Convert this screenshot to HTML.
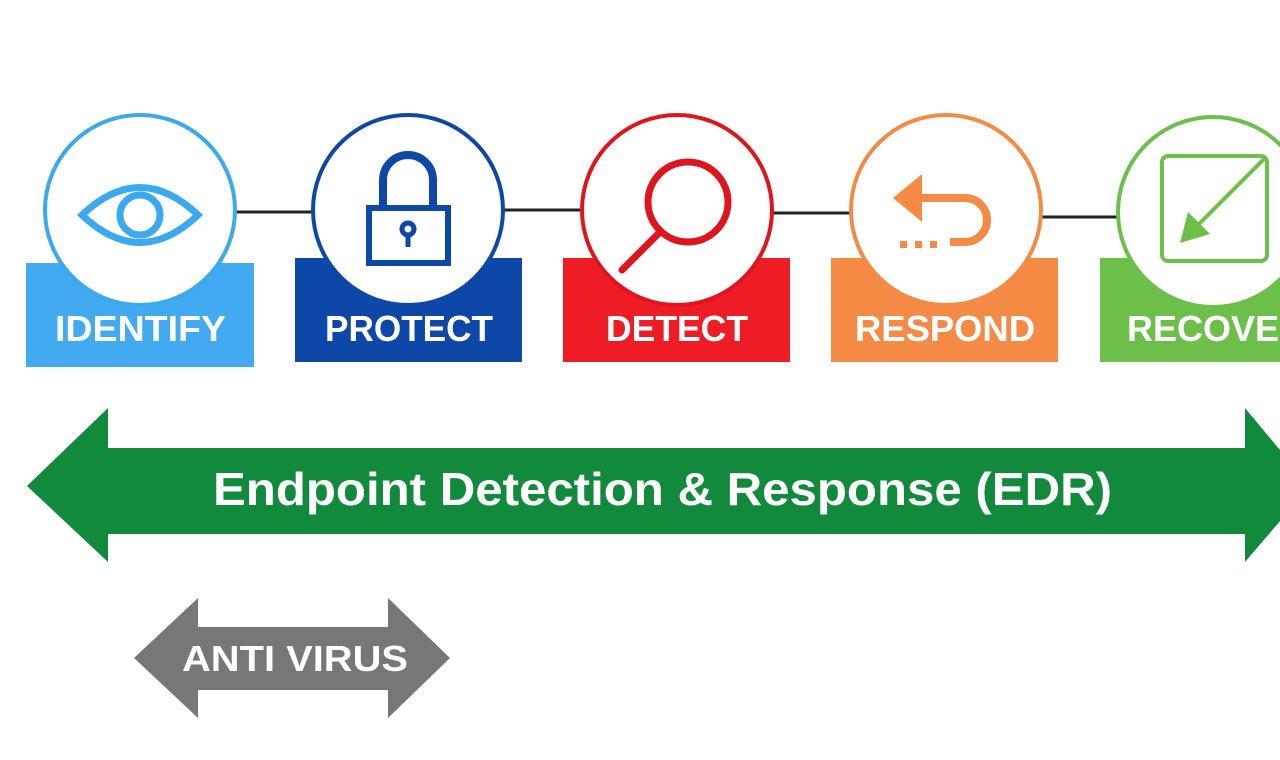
<!DOCTYPE html>
<html><head><meta charset="utf-8"><style>
html,body{margin:0;padding:0;background:#fff;}
svg{display:block}
text{font-family:"Liberation Sans",Arial,sans-serif;font-weight:bold;fill:#fff}
</style></head><body>
<svg width="1280" height="760" viewBox="0 0 1280 760" xmlns="http://www.w3.org/2000/svg">
<rect width="1280" height="760" fill="#fff"/>
<g stroke="#222" stroke-width="3">
<line x1="235" y1="212" x2="315" y2="212"/>
<line x1="503" y1="210" x2="583" y2="210"/>
<line x1="772" y1="213" x2="852" y2="213"/>
<line x1="1041" y1="217" x2="1120" y2="217"/>
</g>
<rect x="26" y="263" width="228" height="104" fill="#41aaf0"/>
<rect x="295" y="258" width="227" height="104" fill="#0d47a8"/>
<rect x="563" y="258" width="227" height="104" fill="#ee1c24"/>
<rect x="831" y="258" width="227" height="104" fill="#f58a45"/>
<rect x="1100" y="258" width="200" height="104" fill="#6cc04a"/>
<circle cx="140" cy="210" r="95" fill="#fff" stroke="#3aa9ee" stroke-width="4"/>
<circle cx="408" cy="210" r="95" fill="#fff" stroke="#0d47a8" stroke-width="4"/>
<circle cx="677" cy="210" r="95" fill="#fff" stroke="#e0141c" stroke-width="4"/>
<circle cx="946" cy="210" r="95" fill="#fff" stroke="#f58a45" stroke-width="4"/>
<circle cx="1213" cy="212" r="95" fill="#fff" stroke="#6cc04a" stroke-width="4"/>
<path d="M82 215 Q140 160 198 215 Q140 270 82 215 Z" fill="none" stroke="#3aa9ee" stroke-width="7"/>
<circle cx="140" cy="215" r="20" fill="none" stroke="#3aa9ee" stroke-width="7"/>
<path d="M383 210 V180 A25 25 0 0 1 433 180 V210" fill="none" stroke="#0d47a8" stroke-width="8"/>
<rect x="369" y="208" width="79" height="55" fill="none" stroke="#0d47a8" stroke-width="6"/>
<circle cx="408" cy="229" r="6" fill="none" stroke="#0d47a8" stroke-width="5"/>
<line x1="408" y1="234" x2="408" y2="247" stroke="#0d47a8" stroke-width="5"/>
<circle cx="688" cy="202" r="40" fill="none" stroke="#e0141c" stroke-width="7"/>
<line x1="660" y1="232" x2="622" y2="270" stroke="#e0141c" stroke-width="7" stroke-linecap="round"/>
<path d="M920 198 H965 A22 22 0 0 1 965 242 H950" fill="none" stroke="#f58a45" stroke-width="8"/>
<path d="M893 198 L922 174 L922 222 Z" fill="#f58a45"/>
<g fill="#f58a45"><rect x="900" y="241" width="7" height="7"/><rect x="915" y="241" width="7" height="7"/><rect x="930" y="241" width="7" height="7"/></g>
<rect x="1162" y="156" width="105" height="105" rx="6" fill="none" stroke="#6cc04a" stroke-width="4"/>
<line x1="1264" y1="159" x2="1195" y2="228" stroke="#6cc04a" stroke-width="4"/>
<path d="M1180 243 L1188 212 L1210 234 Z" fill="#6cc04a"/>
<text x="55" y="341" font-size="36" textLength="171" lengthAdjust="spacingAndGlyphs">IDENTIFY</text>
<text x="325" y="341" font-size="36" textLength="168" lengthAdjust="spacingAndGlyphs">PROTECT</text>
<text x="606" y="341" font-size="36" textLength="142" lengthAdjust="spacingAndGlyphs">DETECT</text>
<text x="855" y="341" font-size="36" textLength="180" lengthAdjust="spacingAndGlyphs">RESPOND</text>
<text x="1127" y="341" font-size="36">RECOVER</text>
<path d="M27 486 L108 408 L108 448 L1245 448 L1245 408 L1310 486 L1245 562 L1245 534 L108 534 L108 562 Z" fill="#118a3c"/>
<text x="213" y="505" font-size="46" textLength="899" lengthAdjust="spacingAndGlyphs">Endpoint Detection &amp; Response (EDR)</text>
<path d="M134 658 L198 598 L198 627 L388 627 L388 598 L450 658 L388 718 L388 690 L198 690 L198 718 Z" fill="#777"/>
<text x="182" y="671" font-size="36" textLength="226" lengthAdjust="spacingAndGlyphs">ANTI VIRUS</text>
</svg>
</body></html>
